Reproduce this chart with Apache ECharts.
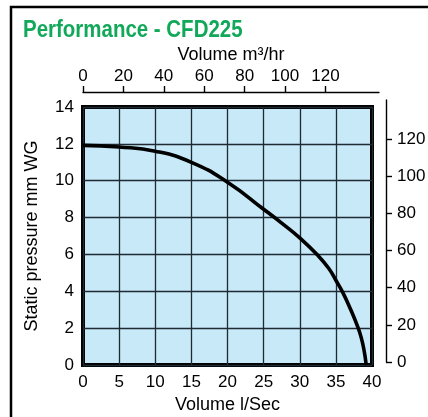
<!DOCTYPE html>
<html><head><meta charset="utf-8">
<script src="https://cdn.jsdelivr.net/npm/echarts@6/dist/echarts.min.js"></script>
<style>html,body{margin:0;padding:0;background:#fff}#c{width:428px;height:417px}</style>
</head><body><div id="c"></div>
<script>
const titleText = 'Performance - CFD225';
const volumeLs     = [0, 5, 10, 15, 20, 25, 27.5, 30, 32.5, 34, 35, 36, 37, 38, 38.5, 38.9, 39.2];
const pressureMmWG = [11.92, 11.83, 11.6, 11.0, 9.92, 8.45, 7.7, 6.9, 5.95, 5.25, 4.6, 3.9, 3.05, 2.1, 1.5, 0.8, 0];
const bottomTicksLs = [0, 5, 10, 15, 20, 25, 30, 35, 40];
const leftTicksMm = [0, 2, 4, 6, 8, 10, 12, 14];
const topTicksM3hr = [0, 20, 40, 60, 80, 100, 120];
const rightTicks = [0, 20, 40, 60, 80, 100, 120];

const FONT = "'Liberation Sans', Arial, Helvetica, sans-serif";
const tickLabel = { color: '#000', fontFamily: FONT, fontSize: 17 };
const nameStyle = { color: '#000', fontFamily: FONT, fontSize: 18 };
const gridLine = { show: true, lineStyle: { color: '#1f2a32', width: 1.3 } };

const chart = echarts.init(document.getElementById('c'), null, { renderer: 'canvas' });
chart.setOption({
  backgroundColor: '#fff',
  animation: false,
  graphic: [
    {
      type: 'rect', z: 100, silent: true,
      shape: { x: 11, y: 7, width: 600, height: 600 },
      style: { fill: 'none', stroke: '#000', lineWidth: 2.5 }
    },
    {
      type: 'text', z: 100, silent: true, x: 23, y: 19, scaleX: 0.89,
      style: { text: titleText, fill: '#12a85a', font: "bold 23px " + FONT, textVerticalAlign: 'top' }
    }
  ],
  grid: [
    { left: 83, top: 107, width: 289, height: 258, show: true, backgroundColor: '#c7e9f8', borderColor: '#000', borderWidth: 4, containLabel: false, outerBoundsMode: 'none', z: 0 },
    { left: 83, top: 92, width: 296, height: 10, containLabel: false, outerBoundsMode: 'none' },
    { left: 300, top: 100, width: 86, height: 262, containLabel: false, outerBoundsMode: 'none' }
  ],
  xAxis: [
    { type: 'value', gridIndex: 0, min: bottomTicksLs[0], max: bottomTicksLs[bottomTicksLs.length - 1], interval: 5,
      name: 'Volume l/Sec', nameLocation: 'middle', nameGap: 31, nameTextStyle: nameStyle,
      axisLine: { show: false }, axisTick: { show: false },
      axisLabel: Object.assign({ margin: 9 }, tickLabel),
      splitLine: gridLine },
    { type: 'value', gridIndex: 1, position: 'top', min: 0, max: 146.5,
      name: 'Volume m³/hr', nameLocation: 'middle', nameGap: 28, nameTextStyle: nameStyle,
      axisLine: { show: true, onZero: false, lineStyle: { color: '#000', width: 1.4 } },
      axisTick: { show: true, length: 6, customValues: topTicksM3hr, lineStyle: { color: '#000', width: 1.4 } },
      axisLabel: Object.assign({ margin: 7, customValues: topTicksM3hr }, tickLabel),
      splitLine: { show: false } },
    { type: 'value', gridIndex: 2, show: false, min: 0, max: 1 }
  ],
  yAxis: [
    { type: 'value', gridIndex: 0, min: leftTicksMm[0], max: leftTicksMm[leftTicksMm.length - 1], interval: 2,
      name: 'Static pressure mm WG', nameLocation: 'middle', nameGap: 42, nameTextStyle: nameStyle,
      axisLine: { show: false }, axisTick: { show: false },
      axisLabel: Object.assign({ margin: 9 }, tickLabel),
      splitLine: gridLine },
    { type: 'value', gridIndex: 1, show: false, min: 0, max: 1 },
    { type: 'value', gridIndex: 2, position: 'right', min: 0, max: 141,
      axisLine: { show: true, onZero: false, lineStyle: { color: '#000', width: 1.4 } },
      axisTick: { show: true, length: 6, customValues: rightTicks, lineStyle: { color: '#000', width: 1.4 } },
      axisLabel: Object.assign({ margin: 11, customValues: rightTicks, align: 'left' }, tickLabel),
      splitLine: { show: false } }
  ],
  series: [{
    type: 'line', xAxisIndex: 0, yAxisIndex: 0, z: 5,
    data: volumeLs.map((v, i) => [v, pressureMmWG[i]]),
    smooth: 0.5, showSymbol: false, symbol: 'none',
    lineStyle: { color: '#000', width: 3.6 }
  }]
});
</script></body></html>
